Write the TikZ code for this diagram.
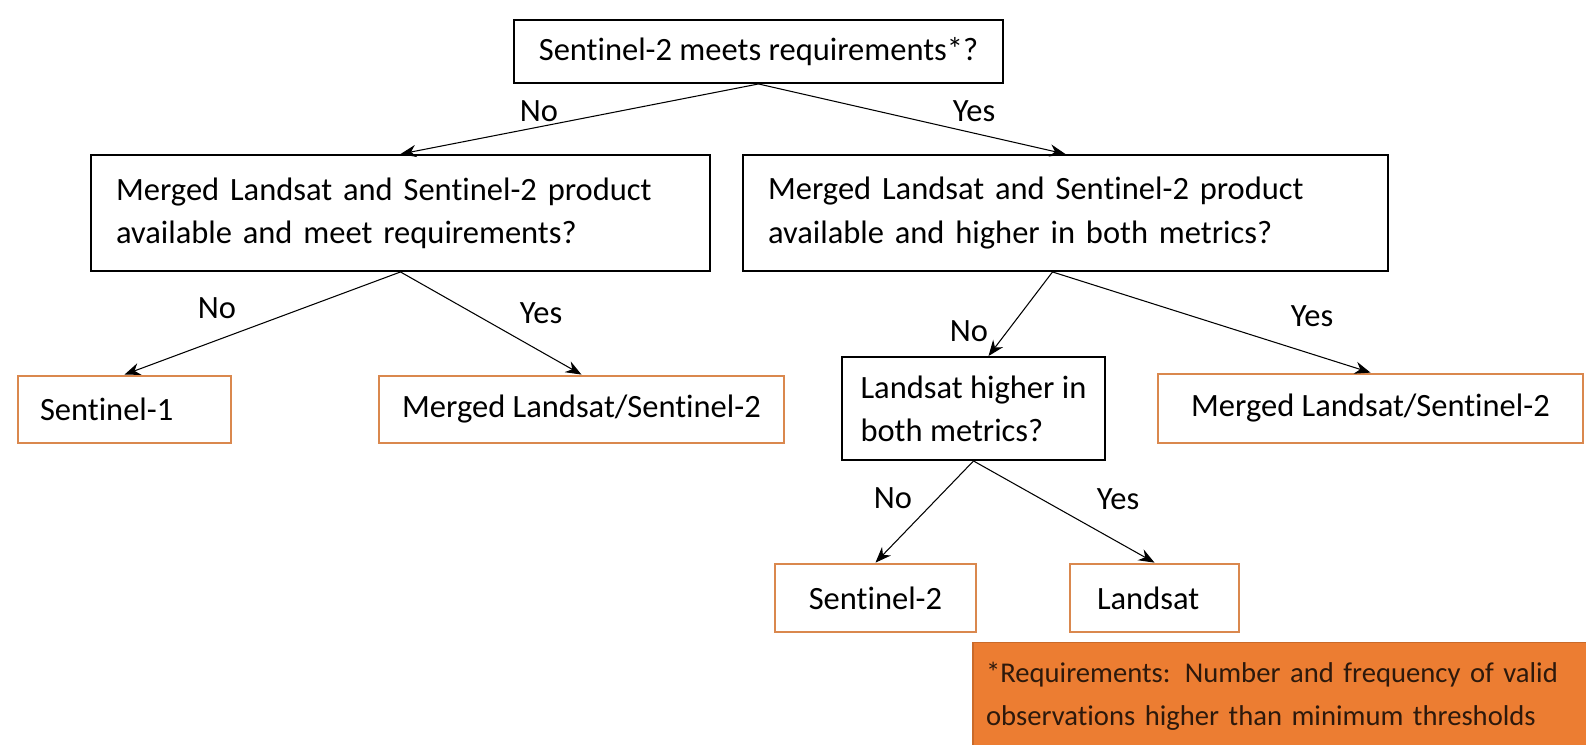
\documentclass[tikz,border=0pt]{standalone}
\usepackage{fontspec}
\setmainfont{Carlito}[Ligatures=NoCommon]
\usetikzlibrary{arrows.meta}
\definecolor{boxorange}{RGB}{218,136,78}
\definecolor{notefill}{RGB}{236,125,50}
\definecolor{notetext}{RGB}{45,25,12}
\def\txt{\fontsize{18.5}{24.5}\selectfont}
\def\notetxt{\fontsize{16.3}{24.5}\selectfont}
\tikzstyle{question}=[draw,rectangle,line width=1.1pt,inner xsep=0.5cm,
                      align=left,font=\txt]
\tikzstyle{answer}=[draw=boxorange,rectangle,line width=1.6pt,inner xsep=0.2cm,
                    align=center,font=\txt]
\tikzstyle{choice}=[font=\txt,inner sep=1pt]
\tikzstyle{arr}=[-{Stealth[length=9pt,width=7pt]},line width=0.6pt]

\begin{document}
\begin{tikzpicture}[x=0.02cm,y=-0.02cm]
  \useasboundingbox (0,0) rectangle (1586,744);
  % first question
  \node[question,minimum width=9.7cm,minimum height=1.26cm] (top) at (758.5,51.5)
       {Sentinel-2 meets requirements*?};

  % second level questions
  \node[question,text width=11.38cm,minimum height=2.32cm] (lq) at (400.5,213)
       {Merged Landsat and Sentinel-2 product\\available and meet requirements?};
  \node[question,text width=11.9cm,minimum height=2.32cm] (rq) at (1065.5,213)
       {Merged Landsat and Sentinel-2 product\\available and higher in both metrics?};

  \draw[arr] (top.south) -- (lq.north);
  \draw[arr] (top.south) -- (rq.north);
  \node[choice] (no1) at (539,111) {No};
  \node[choice] (yes1) at (974,111) {Yes};

  % left branch
  \node[answer,inner xsep=0.44cm,text width=3.38cm,align=left,minimum height=1.34cm] (s1) at (124.5,409.5) {Sentinel-1};
  \node[answer,minimum width=8.1cm,minimum height=1.34cm] (ml) at (581.5,409.5) {Merged Landsat/Sentinel-2};

  \draw[arr] (lq.south) -- (s1.north);
  \draw[arr] (lq.south) -- (ml.north);
  \node[choice] (no2) at (217,308) {No};
  \node[choice] (yes2) at (541,313) {Yes};

  % right branch
  \node[question,minimum width=5.26cm,minimum height=2.06cm,inner xsep=0.2cm] (lh) at (973.5,408.5)
       {Landsat higher in\\both metrics?};
  \node[answer,minimum width=8.5cm,minimum height=1.38cm] (mr) at (1370.5,408.5) {Merged Landsat/Sentinel-2};

  \draw[arr] ([xshift=-0.26cm]rq.south) -- ([xshift=0.3cm]lh.north);
  \draw[arr] ([xshift=-0.26cm]rq.south) -- (mr.north);
  \node[choice] (no3) at (969,331) {No};
  \node[choice] (yes3) at (1312,316) {Yes};

  % last level
  \node[answer,minimum width=4.02cm,minimum height=1.36cm] (s2) at (875.5,598) {Sentinel-2};
  \node[answer,inner xsep=0.54cm,text width=2.3cm,align=left,minimum height=1.36cm] (ls) at (1154.5,598) {Landsat};

  \draw[arr] (lh.south) -- (s2.north);
  \draw[arr] (lh.south) -- (ls.north);
  \node[choice] (no4) at (893,498) {No};
  \node[choice] (yes4) at (1118,499) {Yes};

  % footnote
  \node[draw=notefill!85!black,fill=notefill,rectangle,line width=0.8pt,
        minimum width=12.4cm,minimum height=2.14cm,inner xsep=0.26cm,
        text width=11.88cm,align=left,font=\notetxt,text=notetext] (note) at (1283,696)
       {*Requirements: Number and frequency of valid\\observations higher than minimum thresholds};
\end{tikzpicture}
\end{document}
